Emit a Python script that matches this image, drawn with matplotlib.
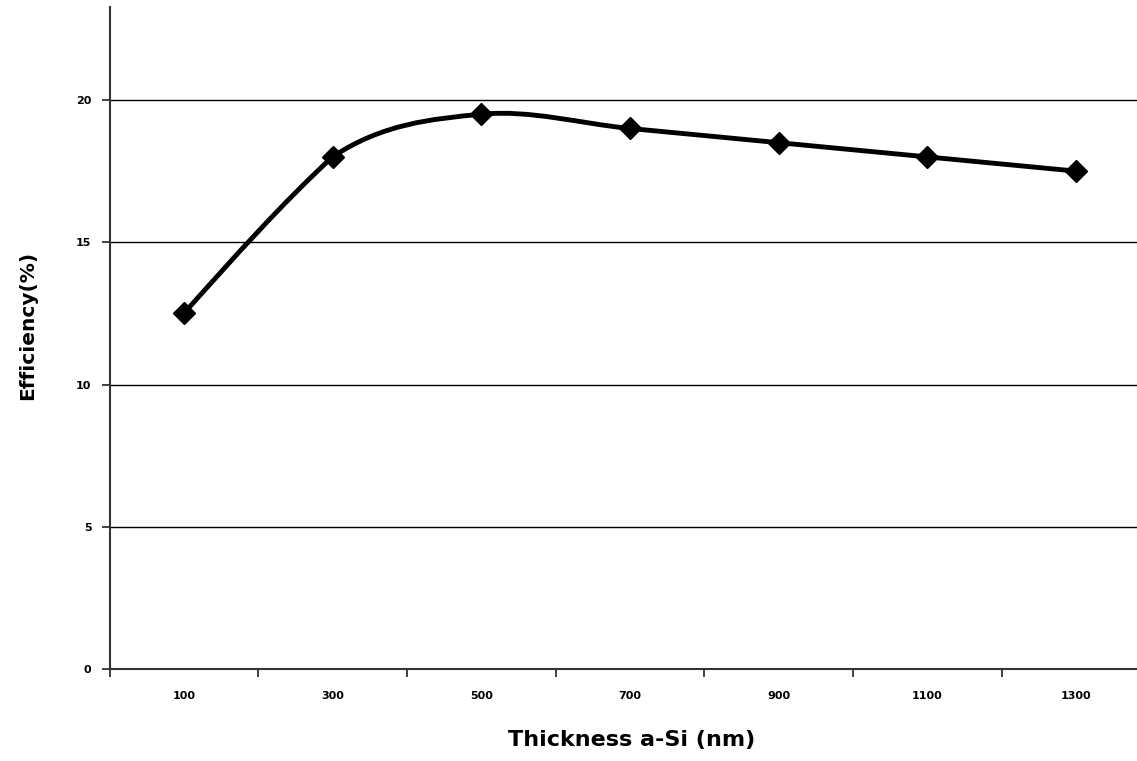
import numpy as np
import matplotlib.pyplot as plt
from matplotlib.path import Path
from matplotlib.patches import PathPatch

thickness = [100, 300, 500, 700, 900, 1100, 1300]
efficiency = [12.5, 18.0, 19.5, 19.0, 18.5, 18.0, 17.5]
yticks = [0, 5, 10, 15, 20]

fig = plt.figure(figsize=(11.37, 7.61), dpi=100)
ax = fig.add_axes([109.5 / 1137, 1 - 669 / 761, 1 - 109.5 / 1137, (669 - 7) / 761])

# smoothed line like the spreadsheet chart (bezier segments through the points)
p = np.column_stack([thickness, efficiency]).astype(float)
ext = np.vstack([p[0], p, p[-1]])
verts = [tuple(p[0])]
codes = [Path.MOVETO]
n = len(p)
for i in range(n - 1):
    c1 = ext[i + 1] + (ext[i + 2] - ext[i]) / 6
    c2 = ext[i + 2] - (ext[i + 3] - ext[i + 1]) / 6
    if i == 0:
        c2 = p[1] - (p[1] - p[0]) / 3 * 0.65 - (p[2] - p[0]) / 6 * 0.35
        c1 = (p[0] + c2) / 2
    if i == n - 2:
        c2 = (p[-1] + c1) / 2
    verts += [tuple(c1), tuple(c2), tuple(p[i + 1])]
    codes += [Path.CURVE4] * 3
ax.add_patch(PathPatch(Path(verts, codes), facecolor='none', edgecolor='black',
                       lw=3.5, capstyle='round', joinstyle='round', zorder=3))
ax.plot(thickness, efficiency, linestyle='none', marker='D', markersize=11,
        color='black', zorder=4)

ax.set_xlim(0, 1382)
ax.set_ylim(0, (669 - 7) / 28.45)
ax.set_yticks(yticks)
ax.set_yticklabels([str(v) for v in yticks], fontsize=8, fontweight='bold')
ax.set_xticks([0, 200, 400, 600, 800, 1000, 1200])
ax.set_xticklabels([])
ax.set_xticks(thickness, minor=True)
ax.set_xticklabels([str(v) for v in thickness], minor=True, fontsize=8, fontweight='bold')
ax.tick_params(axis='x', which='minor', length=0, pad=16)
ax.tick_params(axis='x', which='major', direction='out', length=6, width=1.3, color='#333333')
ax.tick_params(axis='y', direction='out', length=6, width=1.3, color='#333333', pad=7)
ax.grid(axis='y', color='black', lw=1.0)
ax.set_axisbelow(True)
for s in ['top', 'right']:
    ax.spines[s].set_visible(False)
for s in ['left', 'bottom']:
    ax.spines[s].set_linewidth(1.5)
    ax.spines[s].set_color('#333333')

ax.set_xlabel('Thickness a-Si (nm)', fontsize=16, fontweight='bold')
ax.xaxis.set_label_coords((632 - 109.5) / 1027.5, (669 - 740) / 662)
ax.xaxis.label.set_va('center')
ax.set_ylabel('Efficiency(%)', fontsize=14.5, fontweight='bold')
ax.yaxis.set_label_coords((28 - 109.5) / 1027.5, (669 - 325) / 662)
ax.yaxis.label.set_va('center')

fig.savefig('out.png', dpi=100)
